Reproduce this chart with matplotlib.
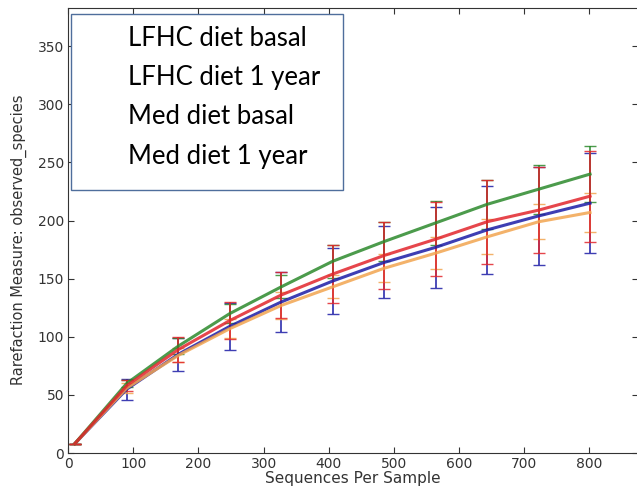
import matplotlib.pyplot as plt
from matplotlib.patches import Rectangle

# sequencing depth and mean observed species per group
depth = [10, 90, 169, 248, 327, 406, 485, 564, 643, 722, 801]
groups = ["LFHC diet basal", "LFHC diet 1 year", "Med diet basal", "Med diet 1 year"]

blue_mean = [8, 55, 85, 109, 130, 148, 164, 177, 192, 204, 215]
red_mean = [8, 58, 89, 114, 136, 154, 170, 184, 199, 209, 221]
orange_mean = [8, 56, 84, 107, 127, 143, 159, 172, 186, 199, 207]
green_mean = [8, 60, 92, 120, 143, 165, 182, 198, 214, 227, 240]

blue_err = [0, 9, 14, 20, 26, 28, 31, 35, 38, 42, 43]
red_err = [0, 5, 11, 16, 20, 25, 29, 32, 36, 37, 39]
orange_err = [0, 4, 6, 8, 12, 10, 12, 14, 15, 15, 17]
green_err = [0, 3, 7, 8, 10, 14, 17, 19, 21, 21, 24]

series = [
    (blue_mean, blue_err, "#1c1ca6"),
    (orange_mean, orange_err, "#f2a550"),
    (green_mean, green_err, "#2c8a2c"),
    (red_mean, red_err, "#e2262c"),
]

fig = plt.figure(figsize=(6.37, 4.93), dpi=100)
ax = fig.add_axes([0.107, 0.081, 0.895, 0.903])

for mean, err, col in series:
    ax.errorbar(depth, mean, yerr=err, color=col, lw=2.2, elinewidth=1.3,
                capsize=4, capthick=1, ecolor=col, alpha=0.85)

ax.set_xlim(0, 875)
ax.set_ylim(0, 383)
ax.set_xticks(range(0, 801, 100))
ax.set_yticks(range(0, 351, 50))
ax.tick_params(direction="in", top=True, right=True, length=4, pad=3,
               labelsize=10, labelcolor="#333333", color="#333333")
for s in ax.spines.values():
    s.set_color("#333333")
ax.set_xlabel("Sequences Per Sample", fontsize=11, color="#333333", labelpad=0)
ax.set_ylabel("Rarefaction Measure: observed_species", fontsize=10.5,
              color="#333333")
ax.yaxis.set_label_coords(-0.072, 0.48)

# text-only legend box
W, H = 637, 493
box = Rectangle((71 / W, 1 - 190 / H), (343 - 71) / W, (190 - 14) / H,
                transform=fig.transFigure, facecolor="white",
                edgecolor="#4f6e9c", lw=1, zorder=5)
fig.add_artist(box)
for i, name in enumerate(groups):
    fig.text(128 / W, 1 - (38 + i * 39.5) / H, name, fontsize=18.5,
             family="Lato", va="center", ha="left", zorder=6)

fig.savefig("out.png", dpi=100)
